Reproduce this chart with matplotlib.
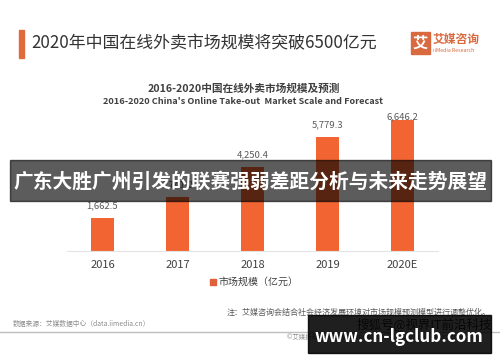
import matplotlib
matplotlib.use("Agg")
import matplotlib.pyplot as plt
from matplotlib.patches import Rectangle

plt.rcParams['font.family'] = ['Noto Sans CJK SC', 'DejaVu Sans']

years = ["2016", "2017", "2018", "2019", "2020E"]
values = [1662.5, 2741.0, 4250.4, 5779.3, 6646.2]
labels = ["1,662.5", "2,741.0", "4,250.4", "5,779.3", "6,646.2"]

W, H = 500, 362
fig = plt.figure(figsize=(W / 100, H / 100), dpi=100)
fig.patch.set_facecolor("white")

def fx(px):
    return px / W

def fy(py):
    return 1 - py / H

# header
fig.patches.append(Rectangle((fx(19), fy(58)), fx(5), (58 - 30) / H,
                             transform=fig.transFigure, color="#E06A3A"))
fig.text(fx(31), fy(43), "2020年中国在线外卖市场规模将突破6500亿元",
         fontsize=12.2, color="#333333", va="center", ha="left")
# logo
fig.patches.append(Rectangle((fx(411), fy(54)), fx(19), 22 / H,
                             transform=fig.transFigure, color="#D9693F"))
fig.text(fx(420.5), fy(43), "艾", fontsize=11, color="white", fontweight="bold",
         ha="center", va="center")
fig.text(fx(433), fy(39.5), "艾媒咨询", fontsize=8.5, color="#D9693F",
         fontweight="bold", ha="left", va="center")
fig.text(fx(433), fy(50.5), "iiMedia Research", fontsize=3.8, color="#D9693F",
         ha="left", va="center")

# chart titles
fig.text(fx(244), fy(89), "2016-2020中国在线外卖市场规模及预测", fontsize=7.7,
         color="#404040", fontweight="bold", ha="center", va="center")
fig.text(fx(243), fy(101), "2016-2020 China's Online Take-out  Market Scale and Forecast",
         fontsize=6.6, color="#404040", fontweight="bold", ha="center", va="center")

# axes
ax_left, ax_right, ax_bottom, ax_top = 66.7, 438, 250.7, 100.7
px_per_unit = 0.0197
ax = fig.add_axes([fx(ax_left), fy(ax_bottom), (ax_right - ax_left) / W,
                   (ax_bottom - ax_top) / H])
ax.set_facecolor("none")
x = list(range(len(years)))
ax.bar(x, values, width=0.31, color="#F26532", zorder=2)
label_pad = 11.7 / px_per_unit      # label centre above bar top
label_cap = 134 / px_per_unit       # labels cannot go above this height
for xi, v, lab in zip(x, values, labels):
    ax.text(xi, min(v + label_pad, label_cap), lab, ha="center", va="center",
            fontsize=6.8, color="#595959", zorder=3)
ax.set_xlim(-0.477, 4.473)
ax.set_ylim(0, 150 / px_per_unit)
for s in ["top", "right", "left"]:
    ax.spines[s].set_visible(False)
ax.spines["bottom"].set_color("#E3E3E3")
ax.spines["bottom"].set_linewidth(0.8)
ax.set_yticks([])
ax.set_xticks(x)
ax.set_xticklabels(years, fontsize=8, color="#404040")
ax.tick_params(axis="x", length=0, pad=7)

# legend
fig.patches.append(Rectangle((fx(209.5), fy(285)), fx(6), 6 / H,
                             transform=fig.transFigure, color="#E0603A"))
fig.text(fx(218), fy(282), "市场规模（亿元）", fontsize=7.2, color="#404040",
         ha="left", va="center")

# notes
fig.text(fx(491), fy(312.5), "注：艾媒咨询会结合社会经济发展环境对市场规模预测模型进行调整优化。",
         fontsize=5.8, color="#595959", ha="right", va="center")
fig.text(fx(12.5), fy(324), "数据来源：艾媒数据中心（data.iimedia.cn）",
         fontsize=4.9, color="#8C8C8C", ha="left", va="center")
fig.lines.append(plt.Line2D([0, 1], [fy(331.5), fy(331.5)], transform=fig.transFigure,
                            color="#BFBFBF", linewidth=1.0))
fig.text(fx(287), fy(337), "©艾媒报告中心 report.iimedia.cn  ©2020 iiMedia Research Inc",
         fontsize=4.6, color="#8C8C8C", ha="left", va="center")
fig.text(fx(492), fy(324), "搜狐号@视界IT前沿科技", fontsize=9, color="#333333",
         ha="right", va="center")

# banner overlay
b_top, b_bot = 160, 201
fig.patches.append(Rectangle((fx(10), fy(b_bot)), fx(480.7), (b_bot - b_top) / H,
                             transform=fig.transFigure, color="black", alpha=0.64,
                             zorder=10))
fig.text(fx(250), fy(182), "广东大胜广州引发的联赛强弱差距分析与未来走势展望",
         fontsize=14.2, color="white", fontweight="bold", ha="center", va="center",
         zorder=11)

# watermark box
fig.patches.append(Rectangle((fx(308), fy(352.7)), fx(182.7), (352.7 - 315) / H,
                             transform=fig.transFigure, color="black", alpha=0.88,
                             zorder=10))
fig.text(fx(399), fy(336.5), "www.cn-lgclub.com", fontsize=12.2, color="white",
         fontweight="bold", ha="center", va="center", zorder=11)

fig.savefig("out.png", dpi=100, facecolor="white")
